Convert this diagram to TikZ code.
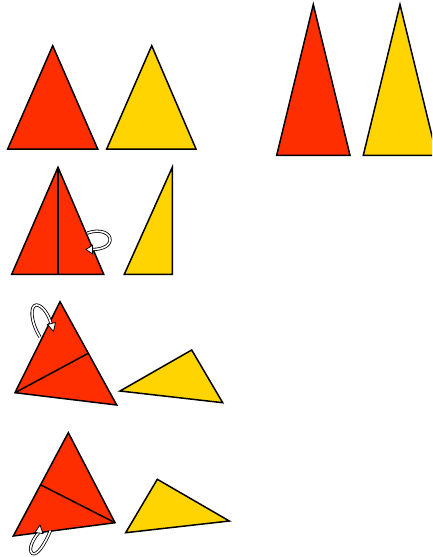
\documentclass[tikz,border=0pt]{standalone}
\definecolor{paperred}{RGB}{255,46,0}
\definecolor{paperyellow}{RGB}{255,212,0}
\tikzset{
  redpaper/.style={fill=paperred,draw=black,line width=1.5pt,line join=miter},
  yellowpaper/.style={fill=paperyellow,draw=black,line width=1.5pt,line join=miter},
  crease/.style={draw=black,line width=1.5pt},
  foldarrow/.style={draw=black,double=white,double distance=1.6pt,line width=0.8pt},
  foldhead/.style={fill=white,draw=black,line width=0.8pt,line join=miter}
}
\begin{document}
\begin{tikzpicture}[x=1pt,y=-1pt]
\clip (0,0) rectangle (432,557);
\useasboundingbox (0,0) rectangle (432,557);
% top right
\coordinate (ra) at (313.3,4.5); \coordinate (rl) at (276.7,155.3); \coordinate (rr) at (350,155.3);
\coordinate (ya) at (400,4.5); \coordinate (yl) at (363.3,155.3); \coordinate (yr) at (436.7,155.3);
\path[redpaper] (ra) -- (rl) -- (rr) -- cycle;
\path[yellowpaper] (ya) -- (yl) -- (yr) -- cycle;
% row 1
\coordinate (a1) at (52.7,45.7); \coordinate (b1) at (7.7,149); \coordinate (c1) at (97.7,149);
\coordinate (d1) at (151.7,45.7); \coordinate (e1) at (106.7,149); \coordinate (f1) at (196,149);
\path[redpaper] (a1) -- (b1) -- (c1) -- cycle;
\path[yellowpaper] (d1) -- (e1) -- (f1) -- cycle;
% row 2
\coordinate (a2) at (58,167.3); \coordinate (b2) at (11.7,274.3); \coordinate (c2) at (103.7,274.3);
\coordinate (m2) at (58,274.3);
\coordinate (d2) at (172.3,167.3); \coordinate (e2) at (124.3,274.3); \coordinate (f2) at (172.3,274.3);
\path[redpaper] (a2) -- (b2) -- (c2) -- cycle;
\draw[crease] (a2) -- (m2);
\path[yellowpaper] (d2) -- (e2) -- (f2) -- cycle;
\coordinate (s2) at (87.5,233); \coordinate (t2) at (92,249.5);
\draw[foldarrow] (s2) .. controls (100,228.5) and (111,233) .. (110,240.5) .. controls (109,247.5) and (99,249.5) .. (t2);
\path[foldhead] (86,249.5) -- (92.5,245.2) -- (92.5,253.8) -- cycle;
% row 3
\coordinate (a3) at (60,301.7); \coordinate (b3) at (15,392.7); \coordinate (c3) at (116.7,405);
\coordinate (m3) at (88.3,353.3);
\coordinate (d3) at (191.7,350); \coordinate (e3) at (120,391); \coordinate (f3) at (222.7,402.7);
\path[redpaper] (a3) -- (b3) -- (c3) -- cycle;
\draw[crease] (b3) -- (m3);
\path[yellowpaper] (d3) -- (e3) -- (f3) -- cycle;
\coordinate (s3) at (40,337); \coordinate (t3) at (51,323.5);
\draw[foldarrow] (s3) .. controls (30,321) and (30,305) .. (36.5,305) .. controls (42,305) and (48.5,314) .. (t3);
\path[foldhead] (53.5,331.5) -- (55.5,322.5) -- (47.5,324.5) -- cycle;
% row 4
\coordinate (a4) at (68.3,432.7); \coordinate (b4) at (13.3,536); \coordinate (c4) at (115,522.7);
\coordinate (m4) at (41,485);
\coordinate (d4) at (157.3,479.3); \coordinate (e4) at (125.7,532.7); \coordinate (f4) at (229.3,521);
\path[redpaper] (a4) -- (b4) -- (c4) -- cycle;
\draw[crease] (m4) -- (c4);
\path[yellowpaper] (d4) -- (e4) -- (f4) -- cycle;
\coordinate (s4) at (50.5,530.5); \coordinate (t4) at (38.5,533);
\draw[foldarrow] (s4) .. controls (45,544) and (37,556) .. (32.5,553.5) .. controls (27.5,550) and (33,539) .. (t4);
\path[foldhead] (40,525) -- (43,533.5) -- (35,532.5) -- cycle;
\end{tikzpicture}
\end{document}
